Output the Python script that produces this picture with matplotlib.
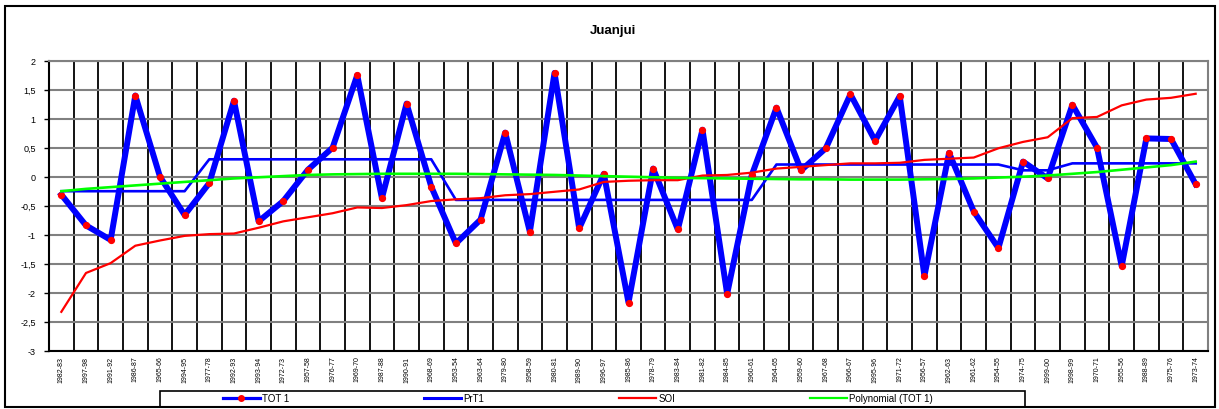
import numpy as np
import matplotlib.pyplot as plt
from matplotlib.patches import Rectangle
from matplotlib.lines import Line2D

# Seasons, in the order they are plotted
seasons = ["1982-83", "1997-98", "1991-92", "1986-87", "1965-66", "1994-95", "1977-78",
           "1992-93", "1993-94", "1972-73", "1957-58", "1976-77", "1969-70", "1987-88",
           "1990-91", "1968-69", "1953-54", "1963-64", "1979-80", "1958-59", "1980-81",
           "1989-90", "1996-97", "1985-86", "1978-79", "1983-84", "1981-82", "1984-85",
           "1960-61", "1964-65", "1959-60", "1967-68", "1966-67", "1995-96", "1971-72",
           "1956-57", "1962-63", "1961-62", "1954-55", "1974-75", "1999-00", "1998-99",
           "1970-71", "1955-56", "1988-89", "1975-76", "1973-74"]

tot1 = [-0.31, -0.84, -1.09, 1.40, 0.00, -0.66, -0.11, 1.31, -0.77, -0.42, 0.12, 0.50,
        1.75, -0.37, 1.26, -0.17, -1.15, -0.74, 0.76, -0.95, 1.79, -0.89, 0.05, -2.17,
        0.14, -0.91, 0.81, -2.02, 0.03, 1.19, 0.11, 0.49, 1.42, 0.62, 1.39, -1.71,
        0.41, -0.60, -1.23, 0.26, -0.03, 1.24, 0.50, -1.54, 0.66, 0.65, -0.13]

prt1 = [-0.25, -0.25, -0.25, -0.25, -0.25, -0.25, 0.30, 0.30, 0.30, 0.30, 0.30, 0.30,
        0.30, 0.30, 0.30, 0.30, -0.40, -0.40, -0.40, -0.40, -0.40, -0.40, -0.40, -0.40,
        -0.40, -0.40, -0.40, -0.40, -0.40, 0.21, 0.21, 0.21, 0.21, 0.21, 0.21, 0.21,
        0.21, 0.21, 0.21, 0.11, 0.11, 0.23, 0.23, 0.23, 0.23, 0.23, 0.23]

soi = [-2.33, -1.66, -1.49, -1.19, -1.10, -1.02, -0.99, -0.98, -0.88, -0.77, -0.70, -0.63,
       -0.53, -0.54, -0.49, -0.42, -0.39, -0.37, -0.32, -0.30, -0.26, -0.22, -0.09, -0.07,
       -0.06, -0.06, 0.02, 0.03, 0.07, 0.14, 0.17, 0.20, 0.23, 0.23, 0.24, 0.29,
       0.31, 0.33, 0.49, 0.60, 0.68, 1.01, 1.03, 1.23, 1.33, 1.36, 1.43]

poly_tot1 = [-0.25, -0.21, -0.18, -0.15, -0.12, -0.09, -0.06, -0.03, -0.01, 0.01, 0.03, 0.04,
             0.045, 0.05, 0.05, 0.05, 0.05, 0.045, 0.04, 0.035, 0.03, 0.02, 0.01, 0.00,
             -0.01, -0.02, -0.025, -0.03, -0.035, -0.04, -0.045, -0.045, -0.05, -0.05, -0.05, -0.045,
             -0.04, -0.03, -0.015, 0.00, 0.02, 0.05, 0.08, 0.12, 0.16, 0.20, 0.26]

y_ticks = [-3, -2.5, -2, -1.5, -1, -0.5, 0, 0.5, 1, 1.5, 2]
y_labels = ["-3", "-2,5", "-2", "-1,5", "-1", "-0,5", "0", "0,5", "1", "1,5", "2"]

plt.rcParams['font.family'] = ['Liberation Sans', 'DejaVu Sans']

W, H = 1219, 410
fig = plt.figure(figsize=(W / 100, H / 100), dpi=100)
ax = fig.add_axes([49 / W, 1 - 351.7 / H, 1159 / W, 290 / H])

x = np.arange(len(seasons))
ax.plot(x, tot1, color='#0000FF', lw=4.3, marker='o', ms=4.2, mfc='#FF0000', mec='#FF0000',
        zorder=3)
ax.plot(x, prt1, color='#0000FF', lw=1.9, zorder=4)
ax.plot(x, soi, color='#FF0000', lw=1.6, zorder=5)
ax.plot(x, poly_tot1, color='#00FF00', lw=1.9, zorder=6)

ax.set_xlim(-0.5, len(seasons) - 0.5)
ax.set_ylim(-3, 2)
ax.set_yticks(y_ticks)
ax.set_yticklabels(y_labels, fontsize=6.5)
ax.set_xticks(x)
ax.set_xticklabels(seasons, rotation=90, fontsize=5)
ax.set_xticks(np.arange(-0.5, len(seasons), 1), minor=True)
ax.tick_params(axis='x', which='both', length=0, pad=3.5)
ax.tick_params(axis='y', length=3.6, width=1, pad=6)

ax.grid(axis='y', color='#808080', lw=1.5, zorder=1)
ax.grid(axis='x', which='minor', color='black', lw=1.3, zorder=1)
ax.set_axisbelow(True)
for side in ['top', 'right']:
    ax.spines[side].set_color('#808080')
    ax.spines[side].set_linewidth(1.5)
for side in ['left', 'bottom']:
    ax.spines[side].set_color('black')
    ax.spines[side].set_linewidth(1.5)

fig.text(613 / W, 1 - 31 / H, "Juanjui", ha='center', va='center', fontsize=9.5, fontweight='bold')

# legend entries drawn with thinner strokes than the plotted lines
handles = [Line2D([], [], color='#0000FF', lw=2.3, marker='o', ms=4, mfc='#FF0000', mec='#FF0000'),
           Line2D([], [], color='#0000FF', lw=2.2),
           Line2D([], [], color='#FF0000', lw=1.6),
           Line2D([], [], color='#00FF00', lw=1.6)]
names = ['TOT 1', 'PrT1', 'SOI', 'Polynomial (TOT 1)']
fig.legend(handles, names, loc='center left', bbox_to_anchor=(223 / W, 1 - 399.5 / H),
           ncol=4, fontsize=7, handlelength=3.8, handletextpad=0.2, columnspacing=13.9,
           frameon=False, borderpad=0, borderaxespad=0)
fig.patches.append(Rectangle((160 / W, 1 - 407.5 / H), 865 / W, 16 / H, transform=fig.transFigure,
                             fill=False, edgecolor='black', lw=1.2))

# chart border
fig.patches.append(Rectangle((5 / W, 2 / H), 1210 / W, 401 / H, transform=fig.transFigure,
                             fill=False, edgecolor='black', lw=1.5))

fig.savefig('out.png', dpi=100)
